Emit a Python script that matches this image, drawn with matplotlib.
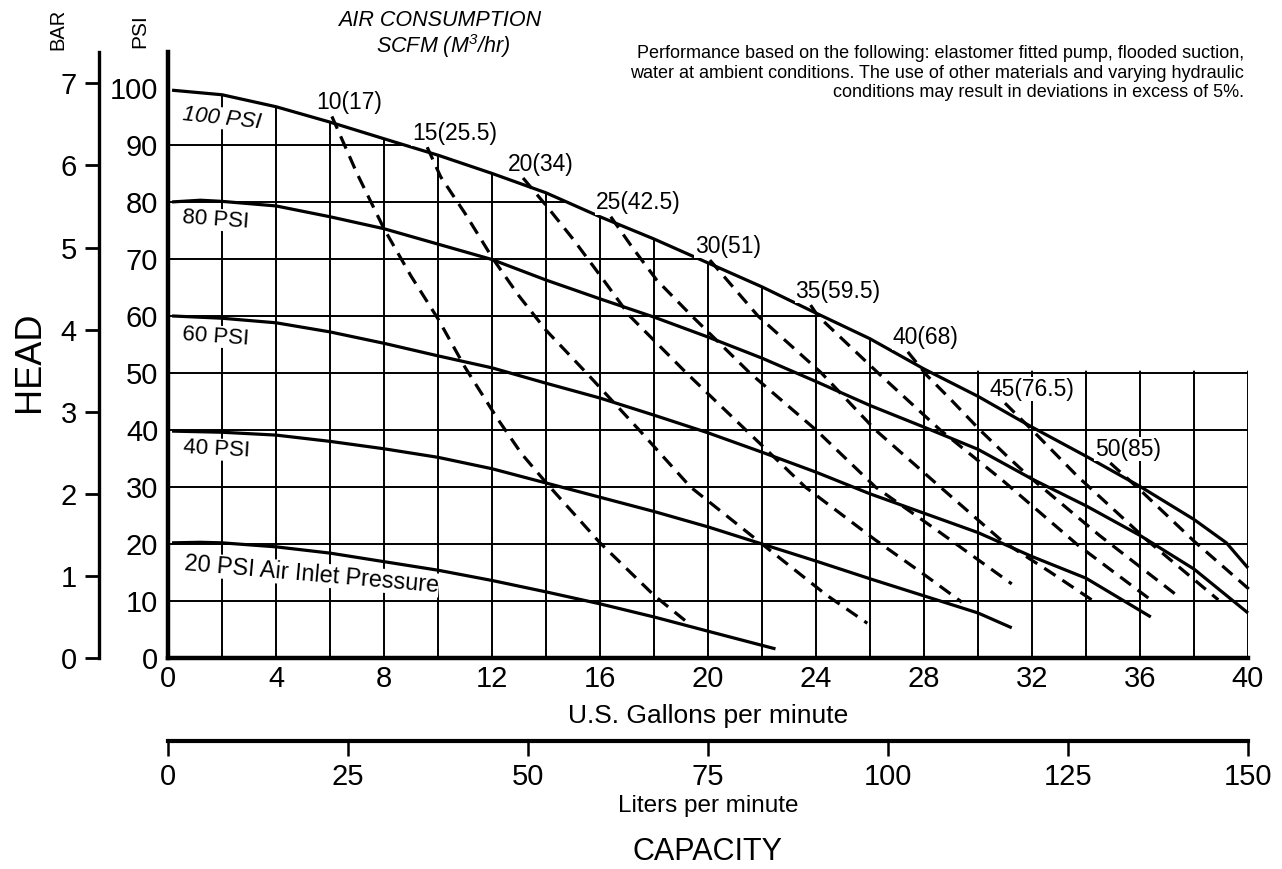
import numpy as np
import matplotlib
matplotlib.use('Agg')
import matplotlib.pyplot as plt
from matplotlib.patches import Polygon

plt.rcParams['font.family'] = ['Liberation Sans', 'DejaVu Sans']
plt.rcParams['mathtext.fontset'] = 'custom'
plt.rcParams['mathtext.rm'] = 'Liberation Sans:italic'
plt.rcParams['mathtext.it'] = 'Liberation Sans:italic'

# air inlet pressure curves (GPM, PSI)
gpm_100 = [0.15, 2, 4, 6, 8.4, 10, 12, 14, 16, 18, 20, 22, 24, 26, 28, 30, 32, 34, 36, 38, 39.2, 40]
psi_100 = [99.6, 98.8, 96.7, 94.0, 90.5, 88.2, 85.0, 81.6, 77.4, 73.5, 69.3, 65.1, 60.5, 56.0,
           50.7, 45.9, 40.5, 35.4, 30.1, 24.3, 20.2, 15.8]
gpm_80 = [0.15, 1.2, 2, 4, 6, 8, 10, 12, 14, 16, 18, 20, 22, 24, 26, 28, 30, 32, 34, 36, 38, 40]
psi_80 = [80.0, 80.3, 80.1, 79.3, 77.4, 75.3, 72.6, 69.9, 66.3, 63.0, 59.8, 56.3, 52.6, 48.5,
          44.3, 40.5, 36.6, 31.4, 26.7, 21.5, 15.6, 7.9]
gpm_60 = [0.15, 2, 4, 6, 8, 10, 12, 14, 16, 18, 20, 22, 24, 26, 28, 30, 32, 34, 36.4]
psi_60 = [60.0, 59.6, 58.8, 57.2, 55.2, 53.0, 50.9, 48.2, 45.6, 42.6, 39.5, 36.1, 32.6, 28.8,
          25.4, 22.0, 17.8, 14.0, 7.2]
gpm_40 = [0.15, 2, 4, 6, 8, 10, 12, 14, 16, 18, 20, 22, 24, 26, 28, 30, 31.25]
psi_40 = [39.8, 39.6, 39.1, 38.0, 36.7, 35.2, 33.2, 30.7, 28.2, 25.7, 23.0, 20.0, 17.0, 13.9,
          10.9, 7.9, 5.3]
gpm_20 = [0.15, 1.2, 2, 4, 6, 8, 10, 12, 14, 16, 18, 20, 22.5]
psi_20 = [20.2, 20.3, 20.2, 19.5, 18.4, 16.9, 15.4, 13.6, 11.6, 9.5, 7.2, 4.7, 1.6]

# air consumption curves, SCFM (M3/hr)
scfm_labels = ['10(17)', '15(25.5)', '20(34)', '25(42.5)', '30(51)', '35(59.5)',
               '40(68)', '45(76.5)', '50(85)']
scfm_gpm = [
    [6.07, 7.0, 8.0, 9.0, 10.0, 11.0, 12.2, 13.1, 14.05, 16.0, 18.0, 19.3],
    [9.6, 10.1, 11.0, 12.04, 13.0, 14.0, 15.5, 17.45, 19.35, 22.0, 24.4, 25.9],
    [13.15, 14.07, 15.0, 16.1, 17.1, 19.2, 21.4, 23.6, 26.2, 27.9, 29.4],
    [16.4, 17.2, 18.1, 19.4, 21.55, 24.0, 26.2, 28.6, 31.25],
    [20.07, 21.85, 24.2, 26.2, 28.6, 30.9, 32.7, 34.4],
    [23.8, 24.07, 26.3, 28.6, 30.9, 33.7, 36.4],
    [27.4, 28.1, 29.0, 30.07, 31.1, 31.9, 34.5, 37.5],
    [31.0, 32.0, 33.7, 36.3, 38.9],
    [34.9, 36.0, 38.0, 40.2],
]
scfm_psi = [
    [95.0, 85.0, 75.3, 67.0, 59.5, 51.0, 42.0, 35.8, 30.5, 20.2, 11.0, 6.0],
    [89.6, 84.4, 78.0, 70.0, 63.5, 57.5, 50.0, 40.0, 30.0, 20.0, 11.0, 6.1],
    [84.2, 79.0, 73.5, 66.5, 60.0, 50.0, 40.0, 30.0, 20.7, 15.0, 9.8],
    [77.4, 72.0, 66.3, 60.0, 50.0, 40.0, 30.0, 22.0, 13.0],
    [69.8, 60.0, 50.0, 40.0, 30.0, 20.5, 15.0, 9.6],
    [61.9, 60.0, 50.0, 40.0, 31.2, 19.8, 10.2],
    [53.7, 49.6, 45.3, 40.0, 35.3, 31.8, 21.5, 10.5],
    [44.7, 40.0, 31.8, 20.5, 10.2],
    [34.2, 29.5, 20.5, 11.4],
]

gpm_ticks = list(range(0, 41, 4))
psi_ticks = list(range(0, 101, 10))
bar_ticks = list(range(0, 8))
lpm_ticks = list(range(0, 151, 25))

W, H = 1282, 869
fig = plt.figure(figsize=(W / 100, H / 100), dpi=100)
rect = [168 / W, 1 - 658 / H, 1080 / W, 606 / H]
PSI_TOP = 106.3
PSI_PER_BAR = 14.4

ax = fig.add_axes(rect)
ax.set_xlim(0, 40)
ax.set_ylim(0, PSI_TOP)
for s in ['top', 'right']:
    ax.spines[s].set_visible(False)
ax.spines['left'].set_linewidth(3.2)
ax.spines['bottom'].set_linewidth(3.2)
ax.spines['left'].set_zorder(6)
ax.spines['bottom'].set_zorder(6)
ax.set_xticks(gpm_ticks)
ax.set_yticks(psi_ticks)
ax.tick_params(axis='both', length=0, labelsize=21)
ax.tick_params(axis='x', pad=5)
ax.tick_params(axis='y', pad=7)

# grid, only under the 100 psi curve (or 50 psi box)
clip_xy = [(-0.3, 0)] + [(-0.3, psi_100[0])]
clip_xy += [(x, max(y, 50.4)) for x, y in zip(gpm_100, psi_100)]
clip_xy += [(40.3, 50.4), (40.3, 0)]
clip = Polygon(clip_xy, closed=True, transform=ax.transData, facecolor='none', edgecolor='none')
ax.add_patch(clip)
vl = ax.vlines(np.arange(2, 41, 2), 0, PSI_TOP, colors='black', linewidth=1.4, zorder=1)
hl = ax.hlines(np.arange(10, 100, 10), 0, 40, colors='black', linewidth=1.4, zorder=1)
vl.set_clip_path(clip)
hl.set_clip_path(clip)

for gx, gy in [(gpm_100, psi_100), (gpm_80, psi_80), (gpm_60, psi_60),
               (gpm_40, psi_40), (gpm_20, psi_20)]:
    ax.plot(gx, gy, color='black', linewidth=2.3, solid_capstyle='butt',
            solid_joinstyle='round', zorder=3, clip_on=False)

for lab, gx, gy in zip(scfm_labels, scfm_gpm, scfm_psi):
    ax.plot(gx, gy, color='black', linewidth=2.3, dashes=(4.2, 2.6), zorder=3, clip_on=False)
    ax.annotate(lab, xy=(gx[0], gy[0]), xytext=(-11, 10), textcoords='offset points',
                ha='left', va='center', fontsize=16.5, zorder=5,
                bbox=dict(facecolor='white', edgecolor='none', pad=0.5))

lab_kw = dict(ha='left', va='center', fontsize=16, zorder=5, rotation_mode='anchor',
              bbox=dict(facecolor='white', edgecolor='none', pad=0.3))
ax.text(0.55, 95.4, '100 PSI', rotation=-6, style='italic', **lab_kw)
ax.text(0.55, 77.3, '80 PSI', rotation=-4, **lab_kw)
ax.text(0.55, 56.8, '60 PSI', rotation=-4, **lab_kw)
ax.text(0.55, 36.9, '40 PSI', rotation=-3, **lab_kw)
lab_kw['fontsize'] = 16.8
ax.text(0.6, 16.6, '20 PSI Air Inlet Pressure', rotation=-5, **lab_kw)

# bar axis
axb = fig.add_axes(rect)
axb.patch.set_visible(False)
axb.set_ylim(0, PSI_TOP / PSI_PER_BAR)
for s in ['top', 'right', 'bottom']:
    axb.spines[s].set_visible(False)
axb.spines['left'].set_position(('outward', 49.7))
axb.spines['left'].set_linewidth(2.4)
axb.set_xticks([])
axb.set_yticks(bar_ticks)
axb.tick_params(axis='y', length=10, width=2, labelsize=21, pad=6)

# liters axis
axl = fig.add_axes(rect)
axl.patch.set_visible(False)
axl.set_xlim(0, 150)
for s in ['top', 'right', 'left']:
    axl.spines[s].set_visible(False)
axl.spines['bottom'].set_position(('outward', 59.8))
axl.spines['bottom'].set_linewidth(3)
axl.set_yticks([])
axl.set_xticks(lpm_ticks)
axl.tick_params(axis='x', length=10.5, width=1.8, labelsize=21, pad=5)


def fx(px):
    return px / W


def fy(py):
    return 1 - py / H


fig.text(fx(30), fy(362), 'HEAD', rotation=90, ha='center', va='center', fontsize=26)
fig.text(fx(58), fy(29), 'BAR', rotation=90, ha='center', va='center', fontsize=14.5)
fig.text(fx(140), fy(31), 'PSI', rotation=90, ha='center', va='center', fontsize=15)
fig.text(fx(708), fy(716), 'U.S. Gallons per minute', ha='center', va='center', fontsize=19)
fig.text(fx(708), fy(806), 'Liters per minute', ha='center', va='center', fontsize=17.5)
fig.text(fx(708), fy(852), 'CAPACITY', ha='center', va='center', fontsize=22)
fig.text(fx(440), fy(20), 'AIR CONSUMPTION', ha='center', va='center', fontsize=15.5, style='italic')
fig.text(fx(443), fy(46), 'SCFM (M$^{3}$/hr)', ha='center', va='center', fontsize=15.5, style='italic')
fig.text(fx(1244), fy(73),
         'Performance based on the following: elastomer fitted pump, flooded suction,\n'
         'water at ambient conditions. The use of other materials and varying hydraulic\n'
         'conditions may result in deviations in excess of 5%.',
         ha='right', va='center', multialignment='right', fontsize=13, linespacing=1.2)

fig.savefig('out.png', dpi=100)
